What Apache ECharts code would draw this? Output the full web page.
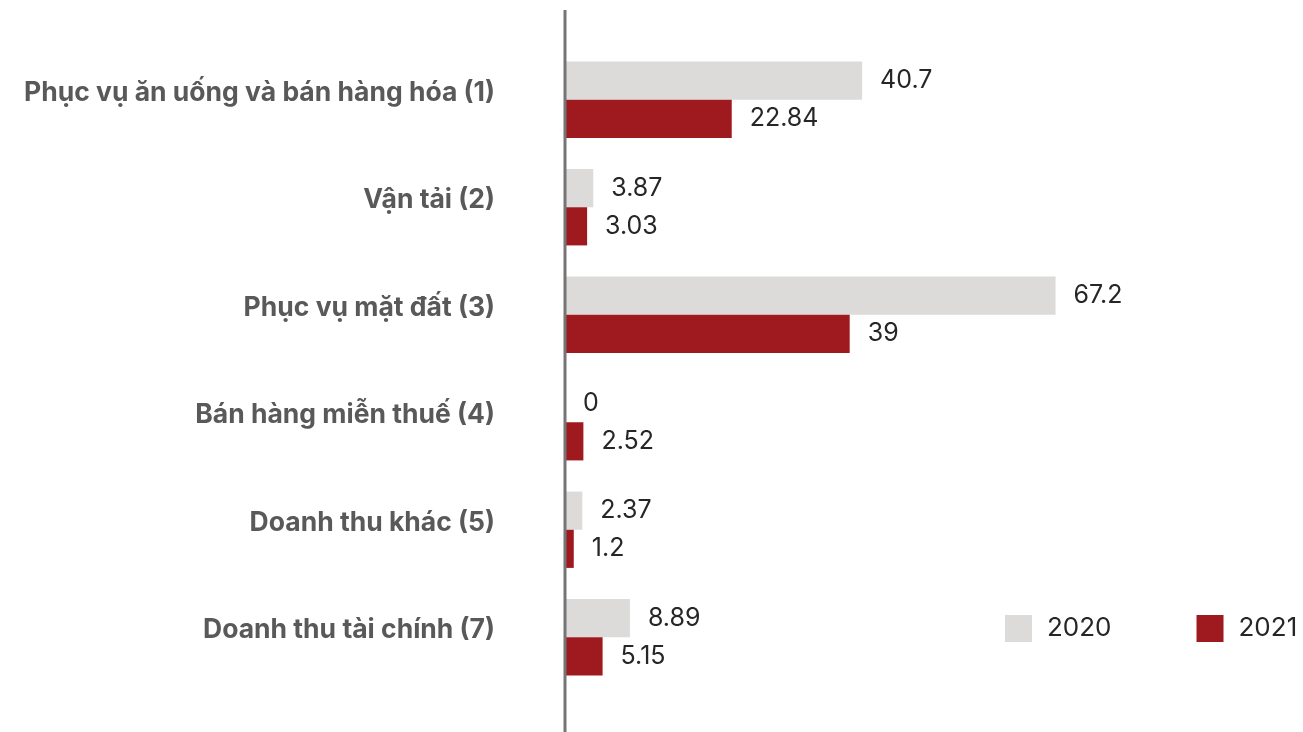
<!DOCTYPE html>
<html>
<head>
<meta charset="utf-8">
<title>Doanh thu 2020 - 2021</title>
<script src="https://cdn.jsdelivr.net/npm/echarts@6/dist/echarts.min.js"></script>
<style>
  html, body { margin: 0; padding: 0; background: #fff; }
  #chart { width: 1303px; height: 732px; }
</style>
</head>
<body>
<div id="chart"></div>
<script>
  // 数据
  const categories = [
    'Phục vụ ăn uống và bán hàng hóa (1)',
    'Vận tải (2)',
    'Phục vụ mặt đất (3)',
    'Bán hàng miễn thuế (4)',
    'Doanh thu khác (5)',
    'Doanh thu tài chính (7)'
  ]
  const values2020 = [40.7, 3.87, 67.2, 0, 2.37, 8.89]
  const values2021 = [22.84, 3.03, 39, 2.52, 1.2, 5.15]
  const seriesNames = ['2020', '2021']

  const myChart = echarts.init(document.getElementById('chart'))

  const labelStyle = {
    show: true,
    position: 'right',
    distance: 18,
    color: '#262626',
    fontSize: 25,
    fontFamily: 'Inter'
  }

  let option = {
    animation: false,
    color: ['#dcdbda', '#9e1a1f'],
    legend: {
      data: seriesNames,
      left: 1005,
      top: 615,
      padding: 0,
      icon: 'rect',
      itemWidth: 27,
      itemHeight: 27,
      itemGap: 85,
      textStyle: {
        fontSize: 26,
        fontFamily: 'Inter',
        color: '#262626',
        padding: [0, 0, 0, 10]
      }
    },
    grid: {
      left: 565,
      right: 81,
      top: 46,
      bottom: 41
    },
    xAxis: {
      type: 'value',
      min: 0,
      max: 90,
      show: false
    },
    yAxis: {
      type: 'category',
      inverse: true,
      data: categories,
      axisLine: { show: false },
      axisTick: { show: false },
      axisLabel: {
        margin: 70,
        fontSize: 26.5,
        fontWeight: 'bold',
        fontFamily: 'Inter',
        color: '#595959',
        verticalAlign: 'bottom',
        lineHeight: 14
      }
    },
    // 纵轴线
    graphic: [
      {
        type: 'line',
        shape: { x1: 565, y1: 10, x2: 565, y2: 732 },
        style: { stroke: '#757575', lineWidth: 3 },
        z: 100
      }
    ],
    series: [
      {
        name: seriesNames[0],
        type: 'bar',
        data: values2020,
        barGap: '0%',
        barCategoryGap: '29%',
        label: labelStyle
      },
      {
        name: seriesNames[1],
        type: 'bar',
        data: values2021,
        barGap: '0%',
        barCategoryGap: '29%',
        label: labelStyle
      }
    ]
  }

  myChart.setOption(option)
</script>
</body>
</html>
